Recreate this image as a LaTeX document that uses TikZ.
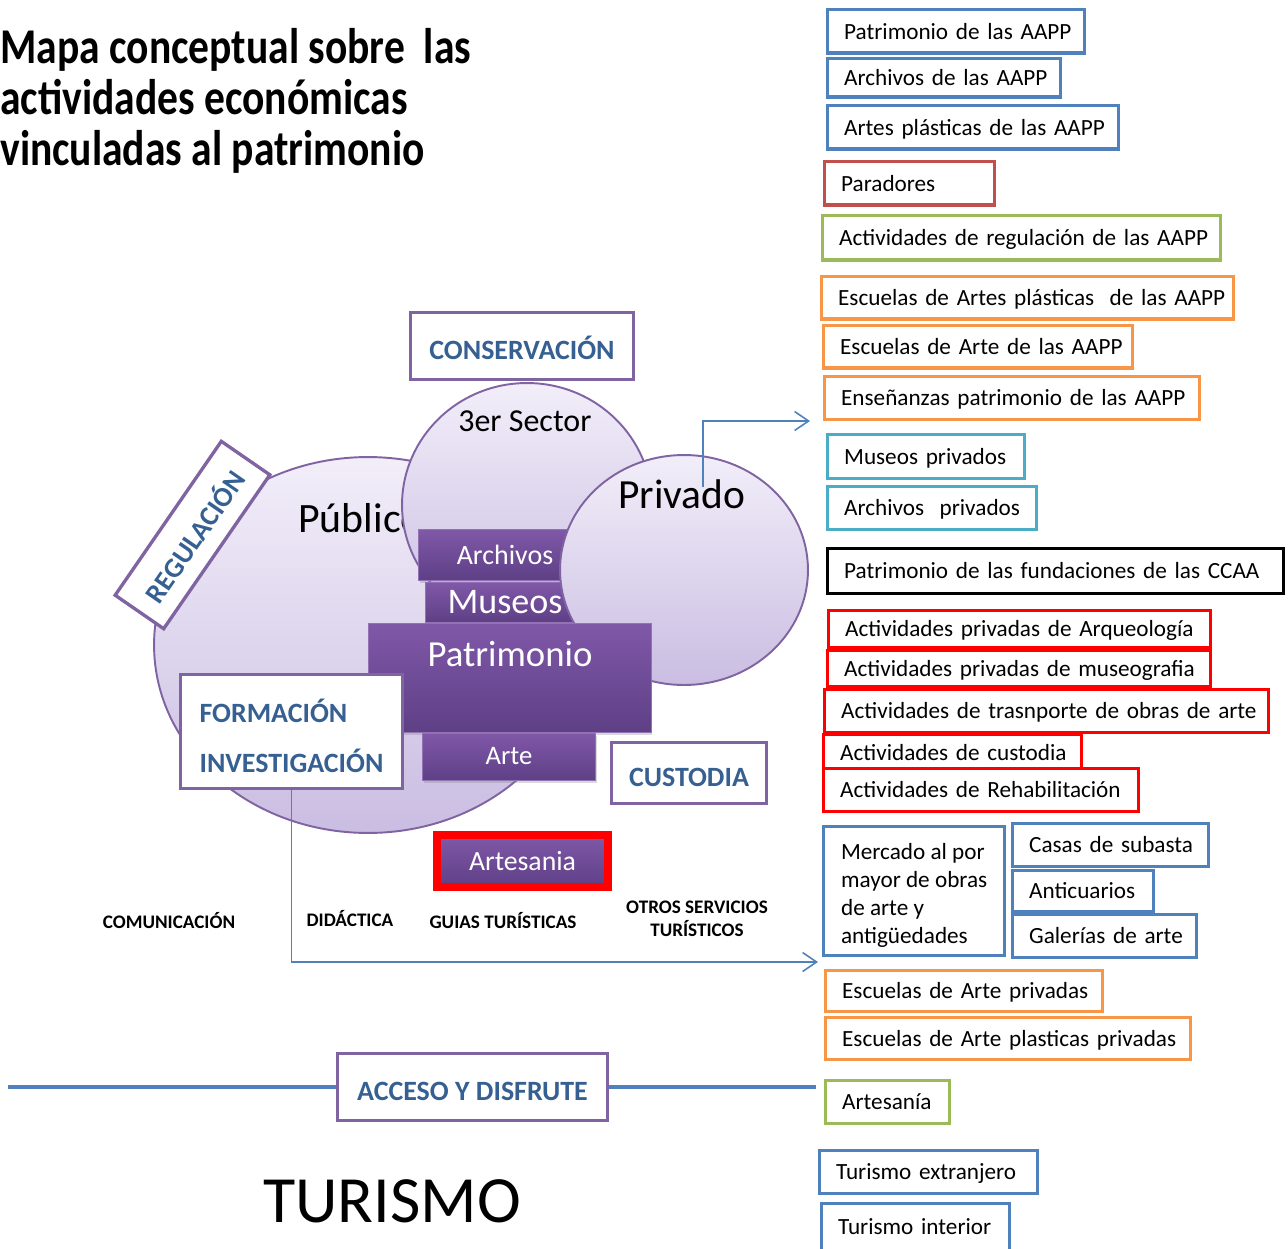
\documentclass[tikz,border=0pt]{standalone}
\usepackage{fontspec}
\setmainfont{Carlito}
\newfontfamily\titlefont[FakeStretch=0.83]{Carlito}
\usetikzlibrary{shapes.geometric,arrows.meta,shadows}

\definecolor{cpurple}{RGB}{128,100,162}
\definecolor{ctext}{RGB}{54,96,146}
\definecolor{cblue}{RGB}{79,129,189}
\definecolor{cbrick}{RGB}{192,80,77}
\definecolor{cgreen}{RGB}{155,187,89}
\definecolor{corange}{RGB}{247,150,70}
\definecolor{cteal}{RGB}{75,172,198}
\definecolor{circtop}{RGB}{242,238,249}
\definecolor{circbot}{RGB}{202,189,226}
\definecolor{boxtop}{RGB}{128,88,168}
\definecolor{boxbot}{RGB}{94,64,134}

\tikzset{
	bubble/.style={ellipse, draw=cpurple, line width=1.1pt, top color=circtop, bottom color=circbot, inner sep=0pt},
	pbox/.style={rectangle, top color=boxtop, bottom color=boxbot, draw=boxtop!85!white, line width=0.5pt, inner sep=0pt, text=white,
		drop shadow={opacity=0.3, shadow xshift=0.03cm, shadow yshift=-0.05cm}},
	capbox/.style={draw=cpurple, line width=1.9pt, fill=white, text=ctext, inner sep=0pt, font=\bfseries\fontsize{15.9}{28.4}\selectfont},
	capline/.style={text height=0.52cm, text depth=0pt},
	lbase/.style={draw=#1, fill=white, line width=1.9pt, anchor=north west, minimum height=0.85cm, font=\fontsize{13.2}{15.9}\selectfont},
	lbox/.style={lbase=#1, inner xsep=0.33cm, inner ysep=0pt, align=left, text height=0.4cm, text depth=0.08cm,
		execute at begin node={\hbox\bgroup}, execute at end node={\egroup}},
	tag/.style={font=\bfseries\fontsize{10.9}{13}\selectfont, align=center, inner sep=0pt},
	conn/.style={draw=cblue, line width=0.9pt, -{Straight Barb[length=0.28cm, width=0.38cm]}},
	accline/.style={draw=cblue, line width=2.5pt}
}

\begin{document}
\begin{tikzpicture}[x=0.02cm, y=-0.02cm]
	\useasboundingbox (0,0) rectangle (1288,1248);
	%
	\node[anchor=west, align=left, inner sep=0pt, font=\titlefont\bfseries\fontsize{28.5}{29}\selectfont] (title) at (0,101)
		{Mapa conceptual sobre\ \ las\\actividades económicas\\vinculadas al patrimonio};
	%
	% the three sectors
	\node[bubble, minimum width=8.56cm, minimum height=7.52cm] (pub) at (368,645) {};
	\node[anchor=base west, inner sep=0pt, font=\fontsize{23.8}{28}\selectfont] (pubtxt) at (298,532) {Público};
	\node[bubble, minimum width=5.0cm, minimum height=4.88cm] (sec) at (527,505) {};
	\node[anchor=base west, inner sep=0pt, font=\fontsize{18.2}{22}\selectfont] (sectxt) at (458,431) {3er Sector};
	\node[pbox, minimum width=3.48cm, minimum height=1.02cm, font=\fontsize{15.9}{19}\selectfont] (archv) at (505,554.5) {Archivos};
	\node[pbox, minimum width=3.2cm, minimum height=0.8cm, font=\fontsize{20.5}{24}\selectfont] (musv) at (505,602) {Museos};
	\node[bubble, minimum width=4.96cm, minimum height=4.6cm] (priv) at (684,570) {};
	\node[anchor=base west, inner sep=0pt, font=\fontsize{23.6}{28}\selectfont] (privtxt) at (618,508) {Privado};
	\node[pbox, minimum width=5.66cm, minimum height=2.18cm] (patv) at (509.5,677.5) {};
	\node[anchor=base, inner sep=0pt, text=white, font=\fontsize{20.9}{25}\selectfont] (pattxt) at (510,666) {Patrimonio};
	\node[pbox, minimum width=3.46cm, minimum height=0.94cm, font=\fontsize{15.2}{18}\selectfont] (artv) at (509,756.5) {Arte};
	%
	% functions
	\node[capbox, capline, minimum width=4.46cm, minimum height=1.34cm] (conserv) at (522,346) {CONSERVACIÓN};
	\node[capbox, capline, minimum width=3.74cm, minimum height=1.18cm, rotate=55.4] (regl) at (192.5,535) {REGULACIÓN};
	\node[capbox, align=left, minimum width=4.44cm, minimum height=2.28cm] (finv) at (291.5,731.5) {\rule{0pt}{0.64cm}FORMACIÓN\\INVESTIGACIÓN};
	\node[capbox, capline, minimum width=3.1cm, minimum height=1.22cm] (cust) at (689,773) {CUSTODIA};
	\node[pbox, draw=red, line width=0.16cm, minimum width=3.42cm, minimum height=1.04cm, font=\fontsize{15.8}{19}\selectfont] (artsn) at (522.5,861) {Artesania};
	%
	\node[tag] (comu) at (169,921) {COMUNICACIÓN};
	\node[tag] (dida) at (350,919) {DIDÁCTICA};
	\node[tag] (guia) at (503,921) {GUIAS TURÍSTICAS};
	\node[tag] (otros) at (697,919) {OTROS SERVICIOS\\TURÍSTICOS};
	%
	\coordinate (parr) at (810,421);
	\coordinate (farr) at (818,962);
	\draw[conn] ([shift={(85,-21)}]privtxt.base west) |- (parr);
	\draw[conn] (finv.south) |- (farr);
	%
	\node[capbox, capline, minimum width=5.4cm, minimum height=1.34cm] (acc) at (472.5,1087) {ACCESO Y DISFRUTE};
	\coordinate (aleft) at (8,1087);
	\coordinate (aright) at (816,1087);
	\draw[accline] (aleft) -- (acc.west);
	\draw[accline] (acc.east) -- (aright);
	%
	\node[anchor=base west, inner sep=0pt, font=\fontsize{37.6}{44}\selectfont] (turis) at (263,1222) {TURISMO};
	%
	% activities
	\node[lbox=cblue, text width=4.48cm, minimum height=0.87cm] (pata) at (826,8) {Patrimonio de las AAPP};
	\node[lbox=cblue, text width=4.00cm, minimum height=0.77cm] (arca) at (826,57) {Archivos de las AAPP};
	\node[lbox=cblue, text width=5.16cm, minimum height=0.87cm] (arta) at (826,104) {Artes plásticas de las AAPP};
	\node[lbox=cbrick, text width=2.74cm, minimum height=0.87cm] (para) at (823,160) {Paradores};
	\node[lbox=cgreen, text width=7.30cm, minimum height=0.89cm] (regu) at (821,214) {Actividades de regulación de las AAPP};
	\node[lbox=corange, text width=7.58cm] (escap) at (820,275) {Escuelas de Artes plásticas\ \ de las AAPP};
	\node[lbox=corange, text width=5.52cm] (escaa) at (822,324) {Escuelas de Arte de las AAPP};
	\node[lbox=corange, text width=6.84cm] (ense) at (823,375) {Enseñanzas patrimonio de las AAPP};
	\node[lbox=cteal, text width=3.28cm, minimum height=0.87cm] (musp) at (826,433) {Museos privados};
	\node[lbox=cteal, text width=3.52cm] (arcp) at (826,485) {Archivos\ \ privados};
	\node[lbox=black, text width=8.46cm, minimum height=0.89cm] (fund) at (826,547) {Patrimonio de las fundaciones de las CCAA};
	\node[lbox=red, text width=6.98cm, minimum height=0.73cm] (arqu) at (827,609) {Actividades privadas de Arqueología};
	\node[lbox=red, text width=7.00cm, minimum height=0.71cm] (museo) at (826,649) {Actividades privadas de museografia};
	\node[lbox=red, text width=8.22cm] (trans) at (823,688) {Actividades de trasnporte de obras de arte};
	\node[lbox=red, text width=4.50cm, minimum height=0.73cm] (custo) at (822,733) {Actividades de custodia};
	\node[lbox=red, text width=5.64cm] (rehab) at (822,767) {Actividades de Rehabilitación};
	\node[lbase=cblue, align=left, minimum width=3.62cm, minimum height=2.58cm, inner xsep=0pt]
		(merc) at (822,825) {\rule{0pt}{0.5cm}Mercado al por\\mayor de obras\\de arte y\\antigüedades};
	\node[lbox=cblue, text width=3.26cm] (casa) at (1011,822) {Casas de subasta};
	\node[lbox=cblue, text width=2.16cm, minimum height=0.81cm] (anti) at (1011,869) {Anticuarios};
	\node[lbox=cblue, text width=3.02cm] (gale) at (1011,913) {Galerías de arte};
	\node[lbox=corange, text width=4.88cm, minimum height=0.81cm] (escp) at (824,969) {Escuelas de Arte privadas};
	\node[lbox=corange, text width=6.64cm, minimum height=0.83cm] (escpp) at (824,1016) {Escuelas de Arte plasticas privadas};
	\node[lbox=cgreen, text width=1.82cm] (artes) at (824,1079) {Artesanía};
	\node[lbox=cblue, text width=3.70cm] (text) at (818,1149) {Turismo extranjero};
	\node[lbox=cblue, text width=3.10cm, minimum height=0.93cm] (tint) at (820,1202) {Turismo interior};
\end{tikzpicture}
\end{document}
